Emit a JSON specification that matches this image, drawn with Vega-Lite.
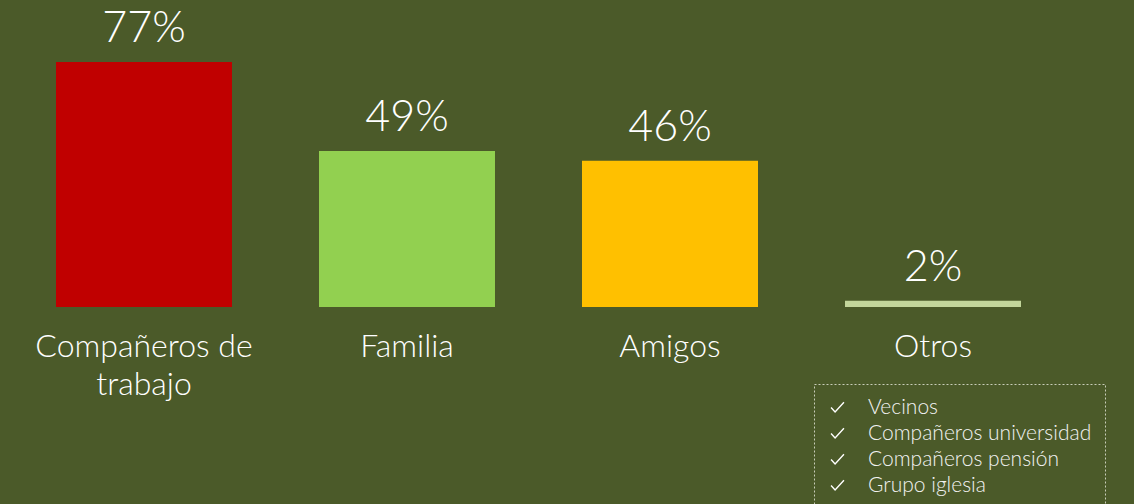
{
  "$schema": "https://vega.github.io/schema/vega-lite/v6.json",
  "autosize": "none",
  "width": 1077,
  "height": 307,
  "padding": {"left": 0, "top": 0, "right": 57, "bottom": 197},
  "background": "#4B5A29",
  "config": {
    "view": {"stroke": null},
    "font": "Lato",
    "legend": {"strokeDash": [2, 2], "strokeWidth": 1}
  },
  "datasets": {
    "bars": [
      {"categoria": "Compañeros de trabajo", "porcentaje": 77, "etiqueta": "77%"},
      {"categoria": "Familia", "porcentaje": 49, "etiqueta": "49%"},
      {"categoria": "Amigos", "porcentaje": 46, "etiqueta": "46%"},
      {"categoria": "Otros", "porcentaje": 2, "etiqueta": "2%"}
    ],
    "otros": [
      {"item": "Vecinos"},
      {"item": "Compañeros universidad"},
      {"item": "Compañeros pensión"},
      {"item": "Grupo iglesia"}
    ]
  },
  "layer": [
    {
      "data": {"name": "bars"},
      "mark": {"type": "bar"},
      "encoding": {
        "x": {
          "field": "categoria",
          "type": "nominal",
          "sort": null,
          "scale": {"paddingInner": 0.3308, "paddingOuter": 0.2129},
          "axis": {
            "title": null,
            "domain": false,
            "ticks": false,
            "labelAngle": 0,
            "labelFontSize": 32,
            "labelFontWeight": 300,
            "labelColor": "#FFFFFF",
            "labelPadding": 24,
            "labelLimit": 400,
            "labelLineHeight": 38,
            "labelExpr": "datum.label == 'Compañeros de trabajo' ? ['Compañeros de', 'trabajo'] : datum.label"
          }
        },
        "y": {
          "field": "porcentaje",
          "type": "quantitative",
          "scale": {"domain": [0, 96.5], "nice": false},
          "axis": null
        },
        "color": {
          "field": "categoria",
          "type": "nominal",
          "sort": null,
          "scale": {"range": ["#C00000", "#92D050", "#FFC000", "#C3D69B"]},
          "legend": null
        }
      }
    },
    {
      "data": {"name": "bars"},
      "mark": {"type": "text", "baseline": "alphabetic", "dy": -20, "fontSize": 43, "fontWeight": 300, "color": "#FFFFFF"},
      "encoding": {
        "x": {"field": "categoria", "type": "nominal", "sort": null},
        "y": {"field": "porcentaje", "type": "quantitative"},
        "text": {"field": "etiqueta"}
      }
    },
    {
      "data": {"name": "otros"},
      "mark": {"type": "point", "opacity": 0},
      "encoding": {
        "shape": {
          "field": "item",
          "type": "nominal",
          "sort": null,
          "scale": {"range": ["M-0.8,0 L-0.3,0.55 L0.8,-0.65"]},
          "legend": {
            "title": null,
            "orient": "none",
            "legendX": 814,
            "legendY": 384,
            "padding": 13,
            "strokeColor": "#C8CCB8",
            "symbolStrokeColor": "#FFFFFF",
            "symbolFillColor": "transparent",
            "symbolStrokeWidth": 1.4,
            "symbolSize": 260,
            "symbolOpacity": 1,
            "labelColor": "#F2F2F2",
            "labelFontSize": 21,
            "labelFontWeight": 300,
            "labelOffset": 20,
            "rowPadding": 4,
            "labelLimit": 400
          }
        }
      }
    }
  ]
}
